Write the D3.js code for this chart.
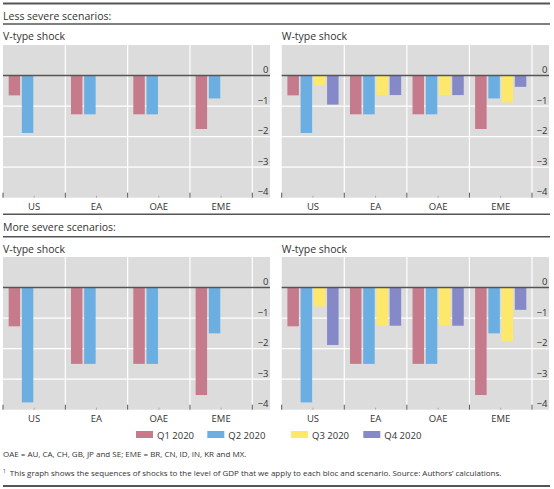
<!DOCTYPE html>
<html>
<head>
<meta charset="utf-8">
<script src="https://cdn.jsdelivr.net/npm/d3@7"></script>
<style>
  html, body { margin: 0; padding: 0; background: #fff; }
  svg { display: block; font-family: "Open Sans", "Noto Sans", sans-serif; }
</style>
</head>
<body>
<svg id="chart" width="554" height="489"></svg>
<script>
// ---------- data ----------
const categories = ["US", "EA", "OAE", "EME"];
const quarters = ["Q1 2020", "Q2 2020", "Q3 2020", "Q4 2020"];
const quarterColors = ["#c67b8d", "#6aaee2", "#fde86b", "#8589c7"];
const yTicks = [0, -1, -2, -3, -4];

// Less severe scenarios
const lessVQ1 = [-0.65, -1.27, -1.27, -1.75];
const lessVQ2 = [-1.88, -1.27, -1.27, -0.75];
const lessWQ1 = [-0.65, -1.27, -1.27, -1.75];
const lessWQ2 = [-1.88, -1.27, -1.27, -0.75];
const lessWQ3 = [-0.32, -0.64, -0.64, -0.88];
const lessWQ4 = [-0.95, -0.64, -0.64, -0.37];

// More severe scenarios
const moreVQ1 = [-1.27, -2.5, -2.5, -3.52];
const moreVQ2 = [-3.76, -2.5, -2.5, -1.5];
const moreWQ1 = [-1.27, -2.5, -2.5, -3.52];
const moreWQ2 = [-3.76, -2.5, -2.5, -1.5];
const moreWQ3 = [-0.62, -1.25, -1.25, -1.76];
const moreWQ4 = [-1.88, -1.25, -1.25, -0.73];

const rowTitles = ["Less severe scenarios:", "More severe scenarios:"];
const panelTitles = ["V-type shock", "W-type shock"];
const noteText = "OAE = AU, CA, CH, GB, JP and SE; EME = BR, CN, ID, IN, KR and MX.";
const footText = "This graph shows the sequences of shocks to the level of GDP that we apply to each bloc and scenario. Source: Authors\u2019 calculations.";

// ---------- layout ----------
const svg = d3.select("#chart");
const ink = "#333";
const rows = [
  { top: 45, bottom: 197.7, headerLine: 3.5, headerY: 20, subLine: 24, titleY: 40, labelY: 210, series: [[lessVQ1, lessVQ2], [lessWQ1, lessWQ2, lessWQ3, lessWQ4]] },
  { top: 257, bottom: 409.7, headerLine: 214.3, headerY: 231, subLine: 236.7, titleY: 252.5, labelY: 422, series: [[moreVQ1, moreVQ2], [moreWQ1, moreWQ2, moreWQ3, moreWQ4]] }
];
const panels = [
  { x0: 3, xCatEnd: 252.3, x1: 270 },
  { x0: 281.7, xCatEnd: 532, x1: 549 }
];
const fmt = v => v === 0 ? "0" : "\u2212" + Math.abs(v);

rows.forEach((r, ri) => {
  svg.append("line").attr("x1", 3).attr("x2", 550)
    .attr("y1", r.headerLine).attr("y2", r.headerLine)
    .attr("stroke", "#555").attr("stroke-width", ri === 0 ? 2 : 1.5);
  svg.append("text").attr("x", 3).attr("y", r.headerY)
    .attr("font-size", 10.5).attr("fill", ink).text(rowTitles[ri]);
  svg.append("line").attr("x1", 3).attr("x2", 550)
    .attr("y1", r.subLine).attr("y2", r.subLine)
    .attr("stroke", "#555").attr("stroke-width", 1.5);

  panels.forEach((p, pi) => {
    const g = svg.append("g");
    const y = d3.scaleLinear().domain([-4, 1]).range([r.bottom, r.top]);
    const x = d3.scaleBand().domain(categories).range([p.x0, p.xCatEnd]).padding(0);
    const xq = d3.scaleBand().domain(quarters).range([0, x.bandwidth()])
      .paddingInner(0.13).paddingOuter(0.43);

    g.append("text").attr("x", p.x0).attr("y", r.titleY)
      .attr("font-size", 10.5).attr("fill", ink).text(panelTitles[pi]);

    g.append("rect").attr("x", p.x0).attr("y", r.top)
      .attr("width", p.x1 - p.x0).attr("height", r.bottom - r.top)
      .attr("fill", "#dcdcdc");

    g.selectAll(".hg").data(yTicks.filter(t => t !== 0 && t !== -4)).enter()
      .append("line").attr("x1", p.x0).attr("x2", p.x1)
      .attr("y1", d => y(d)).attr("y2", d => y(d))
      .attr("stroke", "#fff").attr("stroke-width", 1.2);
    const edges = categories.slice(1).map(c => x(c)).concat([p.xCatEnd]);
    g.selectAll(".vg").data(edges).enter()
      .append("line").attr("x1", d => d).attr("x2", d => d)
      .attr("y1", r.top).attr("y2", r.bottom)
      .attr("stroke", "#fff").attr("stroke-width", 1.2);

    const series = r.series[pi];
    series.forEach((vals, qi) => {
      g.selectAll(".b" + qi).data(vals).enter().append("rect")
        .attr("x", (d, i) => x(categories[i]) + xq(quarters[qi]))
        .attr("width", xq.bandwidth())
        .attr("y", d => y(Math.max(0, d)))
        .attr("height", d => Math.abs(y(d) - y(0)))
        .attr("fill", quarterColors[qi]);
    });

    g.append("line").attr("x1", p.x0).attr("x2", p.x1)
      .attr("y1", y(0)).attr("y2", y(0))
      .attr("stroke", "#555").attr("stroke-width", 1.5);

    g.selectAll(".yl").data(yTicks).enter().append("text")
      .attr("x", p.x1 - 1.5).attr("y", d => y(d) - 2.5)
      .attr("text-anchor", "end").attr("font-size", 9.5).attr("fill", ink)
      .text(fmt);

    const tickEdges = [p.x0].concat(edges);
    g.selectAll(".tk").data(tickEdges).enter().append("line")
      .attr("x1", d => d).attr("x2", d => d)
      .attr("y1", r.bottom - 5).attr("y2", r.bottom)
      .attr("stroke", "#555").attr("stroke-width", 1);
    g.selectAll(".tm").data(categories).enter().append("line")
      .attr("x1", d => x(d) + x.bandwidth() / 2).attr("x2", d => x(d) + x.bandwidth() / 2)
      .attr("y1", r.bottom - 2).attr("y2", r.bottom)
      .attr("stroke", "#aaa").attr("stroke-width", 1);

    g.selectAll(".xl").data(categories).enter().append("text")
      .attr("x", d => x(d) + x.bandwidth() / 2).attr("y", r.labelY)
      .attr("text-anchor", "middle").attr("font-size", 9.5).attr("fill", ink)
      .text(d => d);
  });
});

// legend
const legendX = [136, 207.3, 291, 363.3];
const lg = svg.append("g");
quarters.forEach((q, i) => {
  lg.append("rect").attr("x", legendX[i]).attr("y", 431).attr("width", 17).attr("height", 7)
    .attr("fill", quarterColors[i]);
  lg.append("text").attr("x", legendX[i] + 21).attr("y", 438.5)
    .attr("font-size", 9.5).attr("fill", ink).text(q);
});

// notes
svg.append("text").attr("x", 3).attr("y", 457).attr("font-size", 8).attr("fill", ink).text(noteText);
const ft = svg.append("text").attr("x", 3).attr("y", 476).attr("font-size", 8).attr("fill", ink);
ft.append("tspan").attr("font-size", 5).attr("dy", -3).text("1");
ft.append("tspan").attr("dy", 3).attr("dx", 4).text(footText);

svg.append("line").attr("x1", 3).attr("x2", 550).attr("y1", 486).attr("y2", 486)
  .attr("stroke", "#555").attr("stroke-width", 2);
</script>
</body>
</html>
